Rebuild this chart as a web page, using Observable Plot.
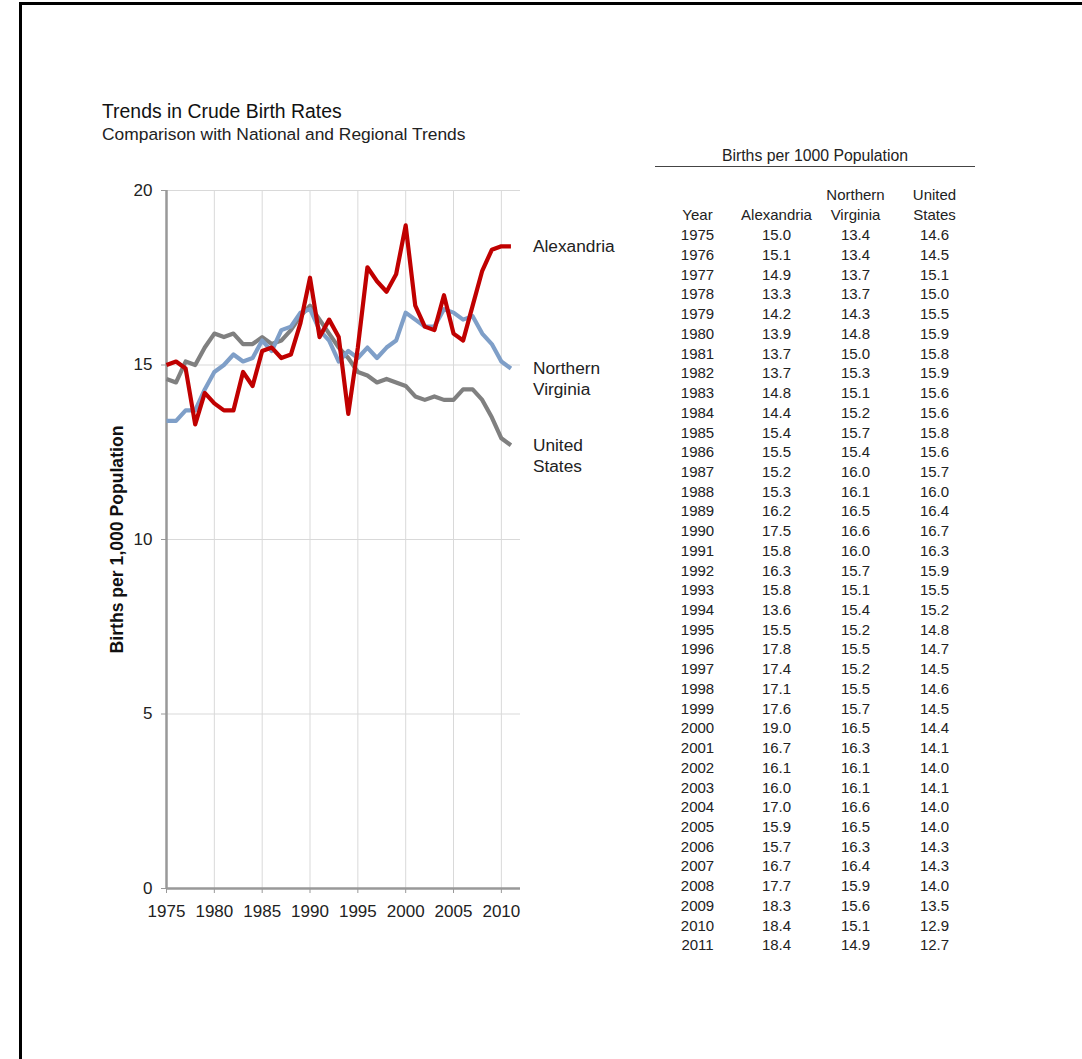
<!DOCTYPE html>
<html>
<head>
<meta charset="utf-8">
<script src="https://cdn.jsdelivr.net/npm/d3@7"></script>
<script src="https://cdn.jsdelivr.net/npm/@observablehq/plot@0.6"></script>
<style>
  html, body { margin: 0; padding: 0; background: #fff; }
  body { width: 1082px; height: 1059px; position: relative; overflow: hidden; font-family: "Liberation Sans", Arial, sans-serif; color: #222; }
  .abs { position: absolute; }
  #frame { left: 19px; top: 2px; width: 1200px; height: 1200px; border-left: 3px solid #000; border-top: 3px solid #000; }
  #title { left: 102px; top: 100px; font-size: 19.4px; line-height: 22px; color: #111; white-space: nowrap; }
  #subtitle { left: 102px; top: 124px; font-size: 17.4px; line-height: 20px; color: #222; white-space: nowrap; }
  #thead { left: 655px; top: 146px; width: 320px; text-align: center; font-size: 15.8px; line-height: 20px; border-bottom: 1.5px solid #444; white-space: nowrap; }
  #chart { left: 0; top: 0; }
  #table { left: 650px; top: 0; }
</style>
</head>
<body>
<div id="frame" class="abs"></div>
<div id="chart" class="abs"></div>
<div id="table" class="abs"></div>
<div id="title" class="abs">Trends in Crude Birth Rates</div>
<div id="subtitle" class="abs">Comparison with National and Regional Trends</div>
<div id="thead" class="abs">Births per 1000 Population</div>
<script>
const years = [1975,1976,1977,1978,1979,1980,1981,1982,1983,1984,1985,1986,1987,1988,1989,1990,1991,1992,1993,1994,1995,1996,1997,1998,1999,2000,2001,2002,2003,2004,2005,2006,2007,2008,2009,2010,2011];
const alexandria = [15.0,15.1,14.9,13.3,14.2,13.9,13.7,13.7,14.8,14.4,15.4,15.5,15.2,15.3,16.2,17.5,15.8,16.3,15.8,13.6,15.5,17.8,17.4,17.1,17.6,19.0,16.7,16.1,16.0,17.0,15.9,15.7,16.7,17.7,18.3,18.4,18.4];
const northernVirginia = [13.4,13.4,13.7,13.7,14.3,14.8,15.0,15.3,15.1,15.2,15.7,15.4,16.0,16.1,16.5,16.6,16.0,15.7,15.1,15.4,15.2,15.5,15.2,15.5,15.7,16.5,16.3,16.1,16.1,16.6,16.5,16.3,16.4,15.9,15.6,15.1,14.9];
const unitedStates = [14.6,14.5,15.1,15.0,15.5,15.9,15.8,15.9,15.6,15.6,15.8,15.6,15.7,16.0,16.4,16.7,16.3,15.9,15.5,15.2,14.8,14.7,14.5,14.6,14.5,14.4,14.1,14.0,14.1,14.0,14.0,14.3,14.3,14.0,13.5,12.9,12.7];
const seriesNames = ["United States", "Northern Virginia", "Alexandria"];
const seriesLabels = ["United\nStates", "Northern\nVirginia", "Alexandria"];
const seriesColors = ["#808080", "#7f9fc8", "#c00000"];
const yTicks = [0, 5, 10, 15, 20];
const xTicks = [1975, 1980, 1985, 1990, 1995, 2000, 2005, 2010];
const columns = ["Year", "Alexandria", "Northern Virginia", "United States"];
const headerTop = ["", "", "Northern", "United"];
const headerBottom = ["Year", "Alexandria", "Virginia", "States"];

const seriesValues = [unitedStates, northernVirginia, alexandria];
const long = [];
seriesNames.forEach((s, i) => years.forEach((y, j) => long.push({series: s, year: y, value: seriesValues[i][j]})));
const lastPoints = seriesNames.map((s, i) => ({series: s, label: seriesLabels[i], year: years[years.length - 1], value: seriesValues[i][years.length - 1]}));

const chart = Plot.plot({
  width: 650, height: 960,
  marginLeft: 166, marginRight: 130, marginTop: 190, marginBottom: 72,
  style: {background: "transparent", fontFamily: "'Liberation Sans', Arial, sans-serif", fontSize: "17px", color: "#222"},
  x: {domain: [1975, 2012]},
  y: {domain: [0, 20]},
  color: {domain: seriesNames, range: seriesColors},
  marks: [
    Plot.gridY(yTicks, {stroke: "#d9d9d9", strokeOpacity: 1, strokeWidth: 1}),
    Plot.gridX(xTicks, {stroke: "#d9d9d9", strokeOpacity: 1, strokeWidth: 1}),
    Plot.axisY(yTicks, {tickSize: 5, tickPadding: 9, stroke: "#999", label: null, fill: "#222", fontSize: 17}),
    Plot.axisX(xTicks, {tickSize: 5, tickPadding: 11, stroke: "#999", label: null, fill: "#222", fontSize: 17, tickFormat: d => String(d)}),
    Plot.ruleX([1975], {stroke: "#999", strokeWidth: 2.5}),
    Plot.ruleY([0], {stroke: "#999", strokeWidth: 2.5}),
    Plot.line(long, {x: "year", y: "value", z: "series", stroke: "series", strokeWidth: 4.2, strokeLinejoin: "round", strokeLinecap: "butt"}),
    Plot.text(lastPoints, {x: "year", y: "value", text: "label", dx: 22, dy: -9, textAnchor: "start", lineAnchor: "top", lineHeight: 1.2, fontSize: 17.3, fill: "#222"}),
    Plot.text(["Births per 1,000 Population"], {frameAnchor: "left", dx: -49, rotate: -90, textAnchor: "middle", lineAnchor: "middle", text: d => d, fontWeight: "bold", fontSize: 17.6, fill: "#111"})
  ]
});
document.getElementById("chart").appendChild(chart);

const rows = years.map((y, j) => ({year: y, vals: [String(y), alexandria[j].toFixed(1), northernVirginia[j].toFixed(1), unitedStates[j].toFixed(1)]}));
const cells = [];
rows.forEach(r => columns.forEach((c, k) => cells.push({row: r.year, col: c, text: r.vals[k]})));
const headCellsTop = columns.map((c, k) => ({row: years[0], col: c, text: headerTop[k]}));
const headCellsBottom = columns.map((c, k) => ({row: years[0], col: c, text: headerBottom[k]}));

const table = Plot.plot({
  width: 432, height: 1059,
  style: {background: "transparent", fontFamily: "'Liberation Sans', Arial, sans-serif", fontSize: "15px", color: "#222"},
  x: {type: "point", domain: columns, range: [46, 285], padding: 0, axis: null},
  y: {type: "linear", domain: [years[0], years[years.length - 1]], range: [235, 945], axis: null},
  marks: [
    Plot.text(cells, {x: "col", y: "row", text: "text", fontSize: 15, fill: "#222"}),
    Plot.text(headCellsTop, {x: "col", y: "row", text: "text", dy: -40, fontSize: 15, fill: "#222"}),
    Plot.text(headCellsBottom, {x: "col", y: "row", text: "text", dy: -20, fontSize: 15, fill: "#222"})
  ]
});
document.getElementById("table").appendChild(table);
</script>
</body>
</html>
